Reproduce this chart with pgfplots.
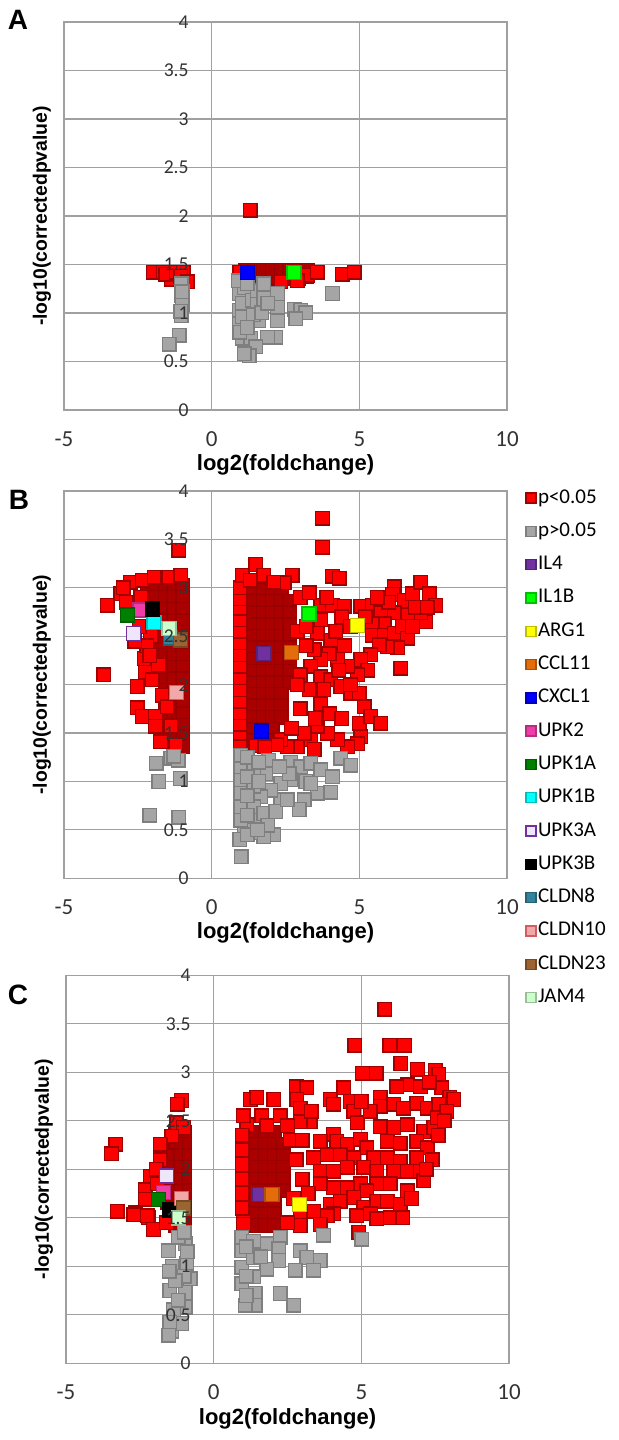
\documentclass[border=0pt]{standalone}
\usepackage{pgfplots}
\pgfplotsset{compat=1.18}
\usepackage{fontspec}
\setmainfont{Carlito}
\newfontfamily\lab{Liberation Sans}
\definecolor{pR}{HTML}{FF0000}
\definecolor{pRd}{HTML}{A00000}
\definecolor{core}{HTML}{AA0000}
\definecolor{coreb}{HTML}{9A0000}
\definecolor{pG}{HTML}{A5A5A5}
\definecolor{pGd}{HTML}{7F7F7F}
\definecolor{gridc}{HTML}{A0A0A0}
\definecolor{tickc}{HTML}{333333}
\definecolor{cIL4}{HTML}{7030A0}
\definecolor{cIL1B}{HTML}{00FF00}
\definecolor{cARG1}{HTML}{FFFF00}
\definecolor{cCCL11}{HTML}{E46C0A}
\definecolor{cCXCL1}{HTML}{0000FF}
\definecolor{cUPK2}{HTML}{F03CA8}
\definecolor{cUPK1A}{HTML}{008000}
\definecolor{cUPK1B}{HTML}{00FFFF}
\definecolor{cUPK3A}{HTML}{EEE6FA}
\definecolor{cUPK3Ad}{HTML}{7030A0}
\definecolor{cUPK3B}{HTML}{000000}
\definecolor{cCLDN8}{HTML}{31849B}
\definecolor{cCLDN10}{HTML}{F2A8A8}
\definecolor{cCLDN10d}{HTML}{D06060}
\definecolor{cCLDN23}{HTML}{9C6430}
\definecolor{cJAM4}{HTML}{CCFFCC}
\pgfplotsset{
  sq/.style 2 args={only marks, mark=square*, mark size=3.4pt,
    mark options={fill=#1, draw=#2, line width=0.7pt},
    legend image code/.code={\draw[##1, mark size=2.5pt] plot coordinates {(2.5pt,0pt)};}},
  sp/.style={sq={#1}{#1!75!black}, mark size=3.5pt},
  coresq/.style={sq={core}{coreb}, forget plot},
  base/.style={
    scale only axis, width=221.5pt, height=194pt,
    xmin=-5, xmax=10, ymin=0, ymax=4,
    major tick length=0pt, tick style={draw=none},
  },
  vol/.style={base,
    xtick={-5,0,5,10}, ytick={0,0.5,1,1.5,2,2.5,3,3.5,4},
    xticklabels={-5,0,5,10}, yticklabels={},
    grid=major, grid style={draw=gridc, line width=0.6pt},
    axis line style={draw=gridc, line width=0.6pt},
    xticklabel style={font=\fontsize{11.5}{13}\selectfont, text=tickc, inner sep=0pt, anchor=north, yshift=-10.5pt},
    xlabel={log2(foldchange)}, ylabel={-log10(correctedpvalue)},
    xlabel style={font=\lab\bfseries\fontsize{11}{13}\selectfont, at={(axis description cs:0.5,-0.142)}, anchor=center},
    ylabel style={font=\lab\bfseries\fontsize{9.7}{11}\selectfont, at={(axis description cs:-0.0497,0.5)}, anchor=center},
  },
  ovl/.style={base,
    xtick=\empty, ytick={0,0.5,1,1.5,2,2.5,3,3.5,4},
    yticklabels={0,0.5,1,1.5,2,2.5,3,3.5,4},
    axis line style={draw=none},
    yticklabel style={font=\fontsize{9.8}{11}\selectfont, text=tickc, inner sep=0pt, anchor=east, xshift=62.5pt},
  },
}
\begin{document}
\begin{tikzpicture}
\useasboundingbox (0,0) rectangle (309.5pt,720pt);
% ---------------- Panel A ----------------
\begin{axis}[vol, at={(32pt,515pt)}, anchor=south west]
\addplot[coresq] coordinates {
(1.15,1.36) (1.45,1.36) (1.75,1.36) (2.05,1.36) (2.35,1.36) (2.65,1.36) (2.95,1.36) (3.2,1.38)
(1.15,1.44) (1.45,1.44) (1.75,1.44) (2.05,1.44) (2.35,1.44) (2.65,1.44) (2.95,1.44) (3.25,1.44)};
\addplot[sq={pR}{pRd}] coordinates {
(-1.97,1.42) (-1.64,1.42) (-1.37,1.35) (-1.55,1.40) (-1.2,1.42) (-0.97,1.42) (-1.05,1.38) (-0.83,1.32)
(1.30,2.06)
(0.95,1.42) (1.0,1.33) (3.24,1.39) (3.58,1.42) (2.9,1.33) (2.34,1.32) (4.43,1.40) (4.82,1.42)};
\addplot[sq={pG}{pGd}] coordinates {
(-1.03,1.30) (-1.03,1.18) (-1.0,1.09) (-1.03,0.97) (-1.1,0.77) (-1.44,0.68) (-1.0,1.22) (-1.05,1.02)
(0.93,1.2) (0.93,1.03) (0.93,0.89) (1.1,1.26) (1.04,1.1) (1.04,0.96) (1.38,1.13) (1.55,1.23) (1.55,1.09)
(1.77,1.3) (1.77,1.15) (1.6,0.92) (2.23,1.2) (2.23,1.06) (2.23,0.92) (2.17,0.75) (1.89,0.75) (1.04,0.74)
(1.32,0.74) (1.49,0.65) (1.27,0.56) (1.1,0.58) (2.79,1.04) (3.02,1.03) (3.19,1.0) (2.85,0.94) (4.09,1.2)
(0.9,1.33) (1.2,1.3) (1.4,0.98) (1.7,1.0) (1.9,1.1) (0.95,0.8) (1.2,0.85)};
\addplot[sp=cCXCL1] coordinates {(1.21,1.42)};
\addplot[sp=cIL1B] coordinates {(2.79,1.42)};
\end{axis}
\begin{axis}[ovl, at={(32pt,515pt)}, anchor=south west]
\end{axis}
% ---------------- Panel B ----------------
\begin{axis}[vol, at={(32pt,280.85pt)}, anchor=south west, height=193.65pt,
  legend style={at={(rel axis cs:1,1)}, anchor=north west, xshift=9.5pt, yshift=1.4pt,
    draw=none, fill=none, inner sep=0pt, outer sep=0pt, row sep=6.85pt, column sep=1pt,
    font=\fontsize{10.5}{12}\selectfont, cells={anchor=west},
    nodes={inner sep=0pt, text height=7.4pt, text depth=2.4pt}},
  legend cell align=left]
\addplot[coresq] coordinates {
(1.15,2.98) (1.45,2.98) (1.75,2.98) (2.05,2.98) (2.35,2.98)
(1.15,2.86) (1.45,2.86) (1.75,2.86) (2.05,2.86) (2.35,2.86) (2.65,2.86)
(1.15,2.74) (1.45,2.74) (1.75,2.74) (2.05,2.74) (2.35,2.74) (2.65,2.74)
(1.15,2.62) (1.45,2.62) (1.75,2.62) (2.05,2.62) (2.35,2.62) (2.65,2.62)
(1.15,2.50) (1.45,2.50) (1.75,2.50) (2.05,2.50) (2.35,2.50) (2.65,2.50)
(1.15,2.38) (1.45,2.38) (1.75,2.38) (2.05,2.38) (2.35,2.38) (2.65,2.38)
(1.15,2.26) (1.45,2.26) (1.75,2.26) (2.05,2.26) (2.35,2.26) (2.65,2.26)
(1.15,2.14) (1.45,2.14) (1.75,2.14) (2.05,2.14) (2.35,2.14) (2.65,2.14)
(1.15,2.02) (1.45,2.02) (1.75,2.02) (2.05,2.02) (2.35,2.02) (2.65,2.02)
(1.15,1.90) (1.45,1.90) (1.75,1.90) (2.05,1.90) (2.35,1.90)
(1.15,1.78) (1.45,1.78) (1.75,1.78) (2.05,1.78) (2.35,1.78)
(1.15,1.66) (1.45,1.66) (1.75,1.66) (2.05,1.66) (2.35,1.66)
(1.15,1.54) (1.45,1.54) (1.75,1.54) (2.05,1.54)
(1.15,1.42) (1.45,1.42) (1.75,1.42) (2.05,1.42)
(-2.18,3.02) (-1.88,3.02) (-1.58,3.02) (-1.28,3.02) (-0.98,3.02)
(-2.18,2.90) (-1.88,2.90) (-1.58,2.90) (-1.28,2.90) (-0.98,2.90)
(-1.88,2.78) (-1.58,2.78) (-1.28,2.78) (-0.98,2.78)
(-1.88,2.66) (-1.58,2.66) (-1.28,2.66) (-0.98,2.66)
(-1.88,2.54) (-1.58,2.54) (-1.28,2.54) (-0.98,2.54)
(-1.88,2.42) (-1.58,2.42) (-1.28,2.42) (-0.98,2.42)
(-1.88,2.30) (-1.58,2.30) (-1.28,2.30) (-0.98,2.30)
(-1.58,2.18) (-1.28,2.18) (-0.98,2.18)
(-1.58,2.06) (-1.28,2.06) (-0.98,2.06)
(-1.58,1.94) (-1.28,1.94) (-0.98,1.94)
(-1.58,1.82) (-1.28,1.82) (-0.98,1.82)
(-1.58,1.70) (-1.28,1.70) (-0.98,1.70)
(-1.28,1.58) (-0.98,1.58) (-1.28,1.46) (-0.98,1.46) (-0.98,1.36)};
\addplot[sq={pR}{pRd}] coordinates {
(0.97,2.77) (0.97,2.65) (0.97,2.53) (0.97,2.41) (0.97,2.29) (0.97,2.17) (0.97,2.05) (0.97,1.93) (0.97,1.81)
(0.97,1.69) (0.97,1.57) (0.97,1.45) (0.97,1.36) (0.97,2.89) (0.97,3.0)
(1.49,3.24) (1.04,3.13) (1.77,3.13) (2.73,3.13) (2.45,3.05) (1.3,3.08) (2.1,3.06) (4.09,3.12) (4.32,3.1)
(3.75,3.72) (3.75,3.42)
(3.69,2.82) (4.09,2.82) (4.49,2.81) (5.05,2.81) (5.44,2.82) (6.18,3.01) (6.12,2.93) (6.52,2.87) (6.80,2.94)
(7.08,3.06) (7.37,2.94) (7.59,2.82) (7.25,2.65) (7.08,2.74) (6.63,2.72) (6.18,2.74) (5.73,2.74) (5.84,2.63)
(5.44,2.63) (5.44,2.51) (5.84,2.51) (6.18,2.53) (6.46,2.60) (6.63,2.48) (6.29,2.38) (5.95,2.39) (5.67,2.41)
(5.39,2.31) (5.05,2.26) (5.28,2.15) (4.94,2.10) (4.60,2.19) (4.26,2.26) (4.03,2.46) (3.69,2.67) (3.58,2.53)
(3.98,2.32) (3.69,2.26) (3.47,2.36) (3.36,2.19) (3.69,2.08) (4.03,2.05) (4.37,1.98) (4.71,1.91) (4.99,1.91)
(5.16,1.77) (4.99,1.60) (5.39,1.67) (5.73,1.60) (5.05,1.46) (4.94,1.39) (4.60,1.36) (4.26,1.43) (3.92,1.50)
(3.58,1.57) (3.36,1.43) (3.13,1.50) (2.90,1.36) (2.56,1.36) (2.34,1.43) (3.47,1.33) (6.41,2.17)
(3.0,2.9) (3.3,2.95) (3.9,2.9) (4.4,2.7) (4.7,2.6) (5.2,2.7) (4.2,2.55) (4.5,2.4) (3.2,2.4) (3.0,2.1)
(3.3,1.95) (3.0,1.75) (3.7,1.8) (4.0,1.7) (4.4,1.65) (3.5,1.65) (2.7,1.55) (2.9,2.55) (3.2,2.6) (2.9,2.0)
(2.2,1.38) (1.5,1.37) (1.8,1.36) (4.7,2.0) (3.8,1.95) (4.3,2.15) (6.0,2.85) (5.6,2.9) (6.9,2.8) (7.3,2.8) (6.8,2.6)
(-2.75,3.06) (-3.08,2.94) (-3.54,2.82) (-2.35,3.08) (-1.95,3.11) (-1.45,3.11) (-1.05,3.13) (-3.65,2.1)
(-2.29,2.27) (-2.24,2.13) (-2.52,1.98) (-2.52,1.76) (-2.35,1.67) (-1.9,1.67) (-1.9,1.57) (-1.73,1.41)
(-1.22,1.38) (-1.39,1.57) (-2.01,2.05) (-1.67,1.89) (-1.5,1.77) (-2.07,2.5) (-1.11,3.39) (-2.4,2.9)
(-2.9,2.85) (-2.2,2.4) (-2.45,2.6) (-3.0,3.0) (-2.6,2.45) (-1.8,2.2) (-2.1,2.3)};
\addlegendentry{p<0.05}
\addplot[sq={pG}{pGd}] coordinates {
(-1.88,1.19) (-1.79,1.0) (-1.39,1.24) (-1.14,1.22) (-1.07,1.03) (-2.09,0.65) (-1.11,0.63) (-1.28,1.26)
(1.94,1.22) (1.83,1.08) (2.68,1.2) (3.02,1.15) (3.36,1.19) (3.69,1.12) (4.09,1.05) (4.37,1.24) (4.71,1.17)
(4.03,0.89) (3.58,0.88) (3.19,1.0) (3.13,0.81) (2.68,1.02) (2.34,0.98) (2.34,0.81) (2.96,0.71) (2.0,0.91)
(1.66,0.84) (1.43,0.6) (2.11,0.45) (1.77,0.43) (1.32,0.47) (1.0,0.22) (1.1,0.5) (0.98,0.6) (0.98,0.74)
(0.98,0.88) (0.98,1.02) (0.98,1.15) (0.98,1.27) (1.43,0.74) (1.43,0.95) (1.43,1.12) (1.77,0.67) (2.17,0.69)
(2.56,0.81) (3.36,0.98) (2.63,1.08) (1.2,1.25) (1.2,1.05) (1.2,0.85) (1.2,0.65) (1.6,1.2) (1.6,1.0)
(2.3,1.15) (0.95,0.4) (1.2,0.45) (1.9,0.55) (1.55,0.5)};
\addlegendentry{p>0.05}
\addplot[sp=cIL4] coordinates {(1.77,2.32)};
\addlegendentry{IL4}
\addplot[sp=cIL1B] coordinates {(3.3,2.73)};
\addlegendentry{IL1B}
\addplot[sp=cARG1] coordinates {(4.94,2.61)};
\addlegendentry{ARG1}
\addplot[sp=cCCL11] coordinates {(2.7,2.33)};
\addlegendentry{CCL11}
\addplot[sp=cCXCL1] coordinates {(1.68,1.52)};
\addlegendentry{CXCL1}
\addplot[sp=cUPK2] coordinates {(-2.43,2.77)};
\addlegendentry{UPK2}
\addplot[sp=cUPK1A] coordinates {(-2.86,2.72)};
\addlegendentry{UPK1A}
\addplot[sp=cUPK1B] coordinates {(-1.95,2.64)};
\addlegendentry{UPK1B}
\addplot[sq={cUPK3A}{cUPK3Ad}, mark size=3.5pt] coordinates {(-2.65,2.53)};
\addlegendentry{UPK3A}
\addplot[sp=cUPK3B] coordinates {(-2.01,2.78)};
\addlegendentry{UPK3B}
\addplot[sp=cCLDN8] coordinates {(-1.39,2.48)};
\addlegendentry{CLDN8}
\addplot[sq={cCLDN10}{cCLDN10d}, mark size=3.5pt] coordinates {(-1.2,1.92)};
\addlegendentry{CLDN10}
\addplot[sp=cCLDN23] coordinates {(-1.05,2.46)};
\addlegendentry{CLDN23}
\addplot[sp=cJAM4] coordinates {(-1.45,2.58)};
\addlegendentry{JAM4}
\end{axis}
\begin{axis}[ovl, at={(32pt,280.85pt)}, anchor=south west, height=193.65pt]
\end{axis}
% ---------------- Panel C ----------------
\begin{axis}[vol, at={(33pt,38.35pt)}, anchor=south west]
\addplot[coresq] coordinates {
(1.15,2.38) (1.45,2.38) (1.75,2.38) (2.05,2.38)
(1.15,2.26) (1.45,2.26) (1.75,2.26) (2.05,2.26) (2.35,2.26)
(1.15,2.14) (1.45,2.14) (1.75,2.14) (2.05,2.14) (2.35,2.14)
(1.15,2.02) (1.45,2.02) (1.75,2.02) (2.05,2.02) (2.35,2.02)
(1.15,1.90) (1.45,1.90) (1.75,1.90) (2.05,1.90) (2.35,1.90)
(1.15,1.78) (1.45,1.78) (1.75,1.78) (2.05,1.78) (2.35,1.78)
(1.15,1.66) (1.45,1.66) (1.75,1.66) (2.05,1.66)
(1.15,1.54) (1.45,1.54) (1.75,1.54) (2.05,1.54)
(1.15,1.42) (1.45,1.42) (1.75,1.42) (2.05,1.42)
(-0.98,2.38) (-1.28,2.38) (-0.98,2.26) (-1.28,2.26) (-0.98,2.14) (-1.28,2.14) (-1.58,2.14)
(-0.98,2.02) (-1.28,2.02) (-1.58,2.02) (-0.98,1.90) (-1.28,1.90) (-1.58,1.90)
(-0.98,1.78) (-1.28,1.78) (-1.58,1.78) (-0.98,1.66) (-1.28,1.66) (-1.58,1.66)
(-0.98,1.54) (-1.28,1.54) (-0.98,1.42) (-1.28,1.42)};
\addplot[sq={pR}{pRd}] coordinates {
(5.8,3.65) (4.78,3.28) (5.97,3.28) (6.46,3.28) (6.33,3.09) (5.04,2.99) (5.5,2.99) (6.9,3.03) (7.5,3.02) (7.62,2.98)
(2.79,2.85) (3.16,2.84) (4.4,2.84) (6.55,2.87) (7.0,2.85) (7.73,2.84) (8.0,2.74) (1.24,2.72) (1.46,2.74)
(2.03,2.72) (2.82,2.72) (2.93,2.63) (3.95,2.72) (4.06,2.67) (4.63,2.7) (4.74,2.6) (5.64,2.74) (5.64,2.65)
(6.1,2.67) (6.43,2.63) (6.88,2.68) (7.23,2.63) (7.62,2.67) (8.13,2.72) (1.63,2.55) (2.25,2.55) (1.12,2.46)
(3.27,2.49) (2.93,2.49) (4.86,2.48) (5.64,2.44) (6.1,2.43) (6.55,2.46) (7.11,2.39) (7.45,2.43) (7.57,2.53)
(4.06,2.36) (3.61,2.29) (4.17,2.29) (4.52,2.26) (4.97,2.31) (5.19,2.22) (5.87,2.29) (6.32,2.27) (6.88,2.29)
(7.23,2.22) (6.88,2.12) (3.84,2.15) (3.38,2.12) (4.29,2.15) (4.74,2.12) (5.42,2.12) (5.87,2.12) (6.32,2.08)
(6.55,1.98) (7.0,1.98) (7.11,1.88) (3.61,1.98) (4.06,1.98) (4.52,2.02) (5.08,2.02) (5.53,1.98) (6.1,1.98)
(5.98,1.85) (5.53,1.85) (4.97,1.85) (5.19,1.78) (4.52,1.81) (4.06,1.81) (3.61,1.85) (3.95,1.64) (4.29,1.67)
(4.74,1.71) (5.08,1.61) (5.53,1.67) (5.87,1.67) (6.32,1.64) (6.55,1.78) (5.31,1.54) (5.98,1.5) (4.06,1.54)
(3.38,1.57) (2.93,1.54)
(7.9,2.6) (7.8,2.5) (7.6,2.35) (7.4,2.1) (7.2,2.0) (6.7,1.7) (6.4,1.5) (2.6,2.3) (2.8,2.1) (3.0,1.9)
(2.7,1.7) (3.2,1.75) (2.5,2.45) (3.0,2.3) (3.3,2.6) (1.8,2.45) (1.0,2.55) (5.3,2.6) (5.0,2.7) (6.2,2.85) (7.3,2.9)
(5.53,1.49) (4.85,1.52) (4.91,1.35) (3.84,1.52) (3.61,1.43) (2.93,1.42) (2.5,1.45) (1.01,1.54) (1.01,1.43)
(0.97,1.6) (0.97,1.75) (0.97,1.9) (0.97,2.05) (0.97,2.2) (0.97,2.35)
(-1.25,2.48) (-1.02,2.43) (-1.42,2.34) (-1.81,2.26) (-1.81,2.1) (-2.15,1.93) (-2.32,1.79)
(-2.32,1.69) (-2.66,1.55) (-2.21,1.5) (-2.04,1.38) (-1.09,2.71) (-1.23,2.67) (-3.32,2.26) (-3.46,2.16)
(-3.26,1.57) (-2.7,1.53) (-2.25,1.52) (-1.6,1.45) (-1.9,1.85) (-1.95,2.0)};
\addplot[sq={pG}{pGd}] coordinates {
(-1.53,1.16) (-0.97,1.23) (-0.91,1.03) (-1.48,0.75) (-0.97,0.73) (-0.97,0.58) (-1.36,0.55) (-1.42,0.33)
(-1.08,0.41) (-1.48,0.42) (-0.8,0.87) (-1.52,0.29) (-1.2,1.3) (-1.0,1.35) (-1.4,1.0) (-1.0,0.9) (-1.3,0.85)
(-1.5,0.95) (-1.2,0.65) (-0.9,1.15)
(2.25,1.3) (1.8,1.23) (2.2,1.18) (2.93,1.16) (3.16,1.09) (3.61,1.06) (3.38,0.96) (2.76,0.96) (2.2,1.06)
(1.8,0.97) (3.72,1.32) (5.02,1.28) (2.25,0.72) (2.71,0.6) (1.41,0.72) (1.41,0.6) (1.07,0.6) (0.95,0.82)
(0.95,0.99) (0.95,1.16) (0.95,1.30) (1.35,1.26) (1.35,1.09) (1.35,0.89) (1.1,1.2) (1.1,0.9) (1.6,1.1) (1.1,0.7)};
\addplot[sp=cIL4] coordinates {(1.53,1.74)};
\addplot[sp=cCCL11] coordinates {(1.97,1.74)};
\addplot[sp=cARG1] coordinates {(2.9,1.64)};
\addplot[sp=cUPK2] coordinates {(-1.7,1.76)};
\addplot[sp=cUPK1A] coordinates {(-1.87,1.69)};
\addplot[sq={cUPK3A}{cUPK3Ad}, mark size=3.5pt] coordinates {(-1.59,1.93)};
\addplot[sp=cUPK3B] coordinates {(-1.48,1.58)};
\addplot[sq={cCLDN10}{cCLDN10d}, mark size=3.5pt] coordinates {(-1.08,1.7)};
\addplot[sp=cCLDN23] coordinates {(-1.02,1.6)};
\addplot[sp=cJAM4] coordinates {(-1.19,1.5)};
\end{axis}
\begin{axis}[ovl, at={(33pt,38.35pt)}, anchor=south west]
\end{axis}
\node[font=\lab\bfseries\fontsize{14}{16}\selectfont] at (9pt,710pt) {A};
\node[font=\lab\bfseries\fontsize{14}{16}\selectfont] at (9.5pt,470pt) {B};
\node[font=\lab\bfseries\fontsize{14}{16}\selectfont] at (9pt,222.5pt) {C};
\end{tikzpicture}
\end{document}
